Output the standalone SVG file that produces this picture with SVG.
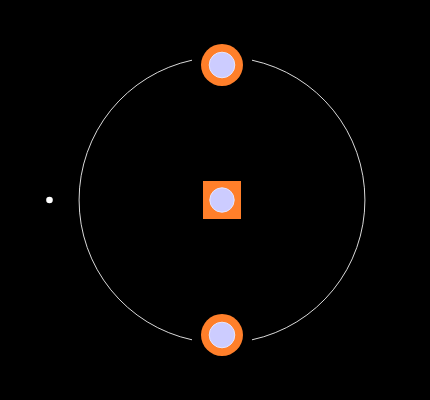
<svg xmlns="http://www.w3.org/2000/svg" width="430" height="400" viewBox="0 0 430 400">
<style>
.pad{fill:#ff7f2a}
.hole{fill:#ccccff;stroke:#e6e6ff;stroke-width:1}
.silk{fill:none;stroke:#d9d9d9;stroke-width:1}
</style>
<rect x="0" y="0" width="430" height="400" fill="#000"/>
<g id="outline">
<path class="silk" d="M192,60.2 A143,143 0 0 0 192,339.8"/>
<path class="silk" d="M252,60.2 A143,143 0 0 1 252,339.8"/>
</g>
<g id="pin1-marker"><circle cx="49.5" cy="200" r="3.3" fill="#fff"/></g>
<g id="pad-top"><circle class="pad" cx="222" cy="65" r="21"/><circle class="hole" cx="222" cy="65" r="12.8"/></g>
<g id="pad-center"><rect class="pad" x="203" y="181" width="38" height="38"/><circle class="hole" cx="222" cy="200" r="12.2"/></g>
<g id="pad-bottom"><circle class="pad" cx="222" cy="335" r="21"/><circle class="hole" cx="222" cy="335" r="12.8"/></g>
</svg>
